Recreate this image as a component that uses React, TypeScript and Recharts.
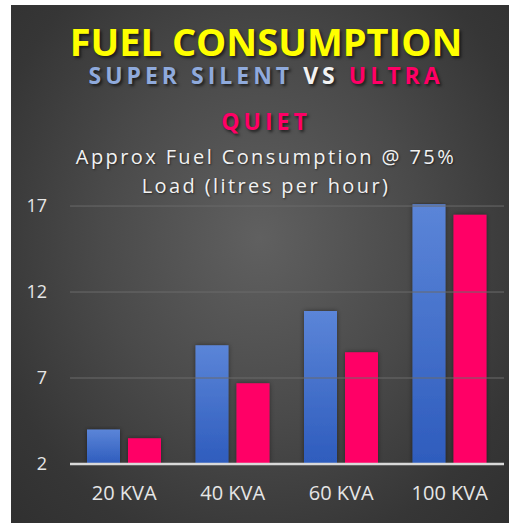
import React from "react";
import { BarChart, Bar, XAxis, YAxis, ReferenceLine } from "recharts";

const categories = ["20 KVA", "40 KVA", "60 KVA", "100 KVA"];
const superSilent = [4.0, 8.9, 10.9, 17.1];
const ultraQuiet = [3.5, 6.7, 8.5, 16.5];
const yTicks = [2, 7, 12, 17];

const data = categories.map((c, i) => ({
  name: c,
  superSilent: superSilent[i],
  ultraQuiet: ultraQuiet[i],
}));

const font = "'Open Sans', 'DejaVu Sans', sans-serif";

const subStyle: React.CSSProperties = {
  position: "absolute",
  width: "100%",
  fontSize: 23,
  lineHeight: "22px",
  fontWeight: 700,
  letterSpacing: 4,
  textShadow: "2px 2px 3px rgba(0,0,0,0.6)",
};

export default function App() {
  return (
    <div style={{ position: "absolute", left: 0, top: 0, width: 509, height: 523, background: "#fff" }}>
      <div
        style={{
          position: "absolute",
          left: 11,
          top: 5,
          width: 498,
          height: 518,
          overflow: "hidden",
          background: "radial-gradient(ellipse at 50% 45%, #606060 0%, #4a4a4a 45%, #363636 80%, #303030 100%)",
          fontFamily: font,
        }}
      >
        <div style={{ position: "absolute", left: 6, top: 0, width: 498, textAlign: "center" }}>
          <div
            style={{
              position: "absolute",
              top: 20,
              width: "100%",
              fontSize: 38,
              lineHeight: "32px",
              fontWeight: 700,
              color: "#ffff00",
              textShadow: "2px 2px 3px rgba(0,0,0,0.6)",
            }}
          >
            FUEL CONSUMPTION
          </div>
          <div style={{ ...subStyle, top: 59 }}>
            <span style={{ color: "#8faadc" }}>SUPER SILENT</span>
            <span style={{ color: "#f2f2f2" }}> VS </span>
            <span style={{ color: "#ff0066" }}>ULTRA</span>
          </div>
          <div style={{ ...subStyle, top: 105, color: "#ff0066" }}>QUIET</div>
          <div
            style={{
              position: "absolute",
              top: 139,
              width: "100%",
              fontSize: 20,
              lineHeight: "25px",
              letterSpacing: 2.4,
              color: "#f2f2f2",
              textShadow: "1px 1px 2px rgba(0,0,0,0.5)",
            }}
          >
            <div>Approx Fuel Consumption @ 75%</div>
            <div style={{ marginTop: 4 }}>Load (litres per hour)</div>
          </div>
        </div>
        <BarChart
          width={498}
          height={518}
          data={data}
          margin={{ top: 197.6, right: 5, bottom: 19, left: 0 }}
          barSize={33}
          barGap={8}
          style={{ position: "absolute", left: 0, top: 0 }}
        >
          <defs>
            <linearGradient id="blueGrad" x1="0" y1="0" x2="0" y2="1">
              <stop offset="0%" stopColor="#5b85d8" />
              <stop offset="100%" stopColor="#2e5cbd" />
            </linearGradient>
            <filter id="barShadow" x="-30%" y="-10%" width="160%" height="120%">
              <feDropShadow dx="0" dy="0" stdDeviation="2.5" floodColor="#000" floodOpacity="0.45" />
            </filter>
          </defs>
          <XAxis
            dataKey="name"
            height={40}
            tickLine={false}
            axisLine={{ stroke: "#d9d9d9", strokeWidth: 2.5 }}
            tickMargin={16}
            tick={{ fill: "#e6e6e6", fontSize: 20, fontFamily: font }}
          />
          <YAxis
            width={59}
            domain={[2, 17.2]}
            ticks={yTicks}
            allowDataOverflow
            tickLine={false}
            axisLine={false}
            tickMargin={17}
            tick={{ fill: "#e6e6e6", fontSize: 18, fontFamily: font }}
          />
          {yTicks.slice(1).map((t) => (
            <ReferenceLine key={t} y={t} stroke="#6a6a6a" strokeWidth={1} />
          ))}
          <Bar dataKey="superSilent" fill="url(#blueGrad)" filter="url(#barShadow)" isAnimationActive={false} />
          <Bar dataKey="ultraQuiet" fill="#ff0066" filter="url(#barShadow)" isAnimationActive={false} />
        </BarChart>
      </div>
    </div>
  );
}
